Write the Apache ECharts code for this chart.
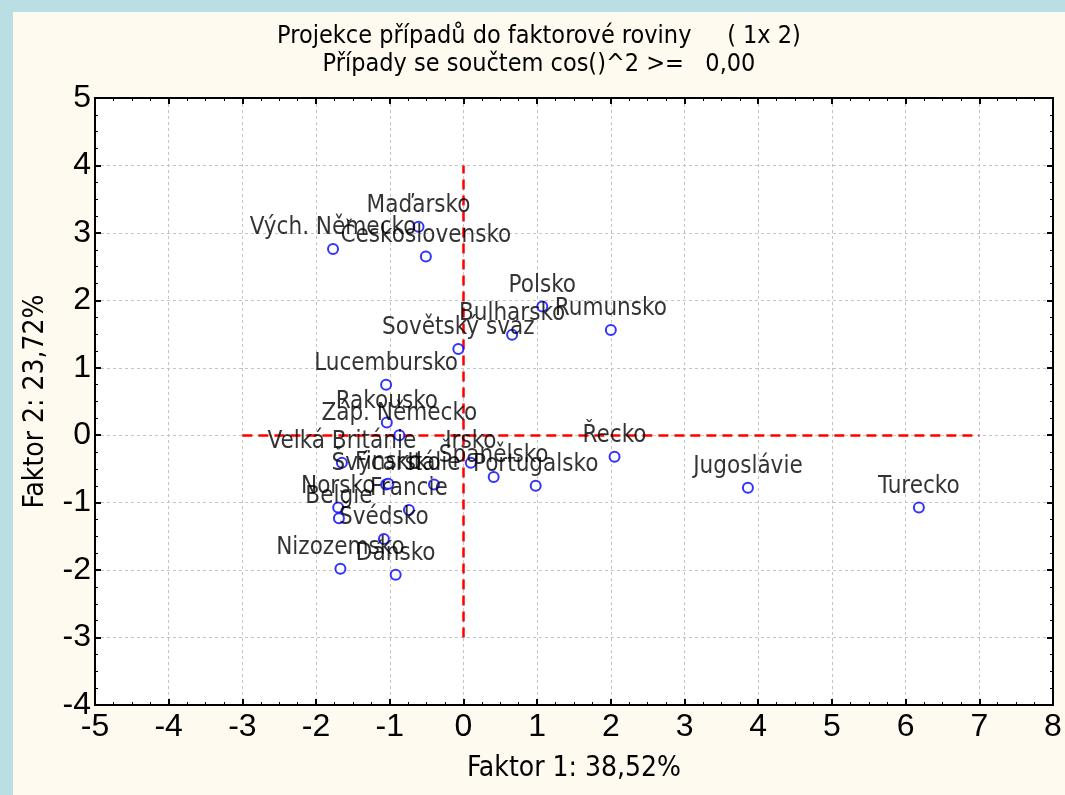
<!DOCTYPE html>
<html>
<head>
<meta charset="utf-8">
<title>Projekce případů do faktorové roviny</title>
<script src="https://cdn.jsdelivr.net/npm/echarts/dist/echarts.min.js"></script>
<style>
    html, body {
        margin: 0;
        padding: 0;
        width: 1065px;
        height: 795px;
        background: #B9DEE3;
        overflow: hidden;
    }
    #chart {
        position: absolute;
        left: 13px;
        top: 12px;
        width: 1052px;
        height: 783px;
    }
</style>
</head>
<body>
<div id="chart"></div>
<script>
// případy (země) a jejich souřadnice ve faktorové rovině
const names = ['Maďarsko', 'Vých. Německo', 'Československo', 'Polsko', 'Bulharsko', 'Sovětský svaz', 'Rumunsko',
    'Lucembursko', 'Rakousko', 'Záp. Německo', 'Velká Británie', 'Švýcarsko', 'Finsko', 'Itálie', 'Norsko',
    'Belgie', 'Francie', 'Švédsko', 'Nizozemsko', 'Dánsko', 'Irsko', 'Španělsko', 'Portugalsko', 'Řecko',
    'Jugoslávie', 'Turecko']
const faktor1 = [-0.61, -1.77, -0.51, 1.07, 0.66, -0.07, 2.00,
    -1.05, -1.04, -0.87, -1.65, -1.05, -1.02, -0.40, -1.70,
    -1.69, -0.74, -1.08, -1.67, -0.92, 0.10, 0.41, 0.98, 2.05,
    3.86, 6.18]
const faktor2 = [3.09, 2.76, 2.65, 1.91, 1.49, 1.28, 1.56,
    0.75, 0.19, 0.00, -0.41, -0.73, -0.72, -0.73, -1.07,
    -1.23, -1.11, -1.54, -1.98, -2.07, -0.41, -0.62, -0.75, -0.32,
    -0.78, -1.07]

// osy (rozsah) a červené referenční čáry
const xTicks = [-5, 8]
const yTicks = [-4, 5]
const refV = [[0, -3], [0, 4]]
const refH = [[-3, 0], [7, 0]]

const titleText = 'Projekce případů do faktorové roviny     ( 1x 2)'
const subText = 'Případy se součtem cos()^2 >=   0,00'
const xName = 'Faktor 1: 38,52%'
const yName = 'Faktor 2: 23,72%'

const narrow = '"Liberation Sans Narrow", "Arial Narrow", "DejaVu Sans Condensed", sans-serif'
const plain = '"Liberation Sans", Arial, sans-serif'

let myChart = echarts.init(document.getElementById('chart'))

let points = names.map((n, i) => ({ name: n, value: [faktor1[i], faktor2[i]] }))

let lineBlack = { show: true, onZero: false, lineStyle: { color: '#000', width: 2 } }
let tickBlack = { show: true, inside: true, length: 6, lineStyle: { color: '#000', width: 2 } }
let minorBlack = { show: true, splitNumber: 4, length: 3, lineStyle: { color: '#000', width: 1 } }
let gridDash = { show: true, lineStyle: { color: '#C4C4C4', width: 1, type: [3, 3] } }

let options = {
    backgroundColor: '#FFFAF0',
    animation: false,
    title: {
        text: titleText + '\n' + subText,
        left: 'center',
        top: 10,
        padding: 0,
        textStyle: {
            fontFamily: narrow,
            fontSize: 25,
            fontWeight: 'normal',
            color: '#000',
            lineHeight: 28
        }
    },
    grid: {
        left: 82,
        right: 12,
        top: 86,
        bottom: 90,
        show: true,
        backgroundColor: '#fff',
        borderColor: '#000',
        borderWidth: 2
    },
    xAxis: [{
        type: 'value',
        position: 'bottom',
        min: xTicks[0],
        max: xTicks[1],
        interval: 1,
        name: xName,
        nameLocation: 'middle',
        nameGap: 50,
        nameTextStyle: { fontFamily: narrow, fontSize: 28, color: '#000' },
        axisLine: lineBlack,
        axisTick: tickBlack,
        minorTick: minorBlack,
        axisLabel: { fontFamily: plain, fontSize: 32, color: '#000', margin: 6 },
        splitLine: gridDash
    }, {
        type: 'value',
        position: 'top',
        min: xTicks[0],
        max: xTicks[1],
        interval: 1,
        axisLine: lineBlack,
        axisTick: tickBlack,
        minorTick: minorBlack,
        axisLabel: { show: false },
        splitLine: { show: false }
    }],
    yAxis: [{
        type: 'value',
        position: 'left',
        min: yTicks[0],
        max: yTicks[1],
        interval: 1,
        name: yName,
        nameLocation: 'middle',
        nameGap: 45,
        nameTextStyle: { fontFamily: narrow, fontSize: 28, color: '#000' },
        axisLine: lineBlack,
        axisTick: tickBlack,
        minorTick: minorBlack,
        axisLabel: { fontFamily: plain, fontSize: 32, color: '#000', margin: 4 },
        splitLine: gridDash
    }, {
        type: 'value',
        position: 'right',
        min: yTicks[0],
        max: yTicks[1],
        interval: 1,
        axisLine: lineBlack,
        axisTick: tickBlack,
        minorTick: minorBlack,
        axisLabel: { show: false },
        splitLine: { show: false }
    }],
    series: [{
        type: 'scatter',
        data: points,
        symbol: 'emptyCircle',
        symbolSize: 10,
        itemStyle: { color: '#0000FF', borderColor: '#0000FF', borderWidth: 1 },
        label: {
            show: true,
            position: 'top',
            distance: 3,
            offset: [5, 0],
            formatter: p => p.name,
            fontFamily: narrow,
            fontSize: 24,
            color: '#000'
        },
        labelLayout: { hideOverlap: false },
        markLine: {
            silent: true,
            symbol: 'none',
            label: { show: false },
            lineStyle: { color: '#FF0000', width: 2.5, type: [10, 6] },
            data: [
                [{ coord: refV[0] }, { coord: refV[1] }],
                [{ coord: refH[0] }, { coord: refH[1] }]
            ]
        },
        z: 5
    }]
}
myChart.setOption(options)
</script>
</body>
</html>
